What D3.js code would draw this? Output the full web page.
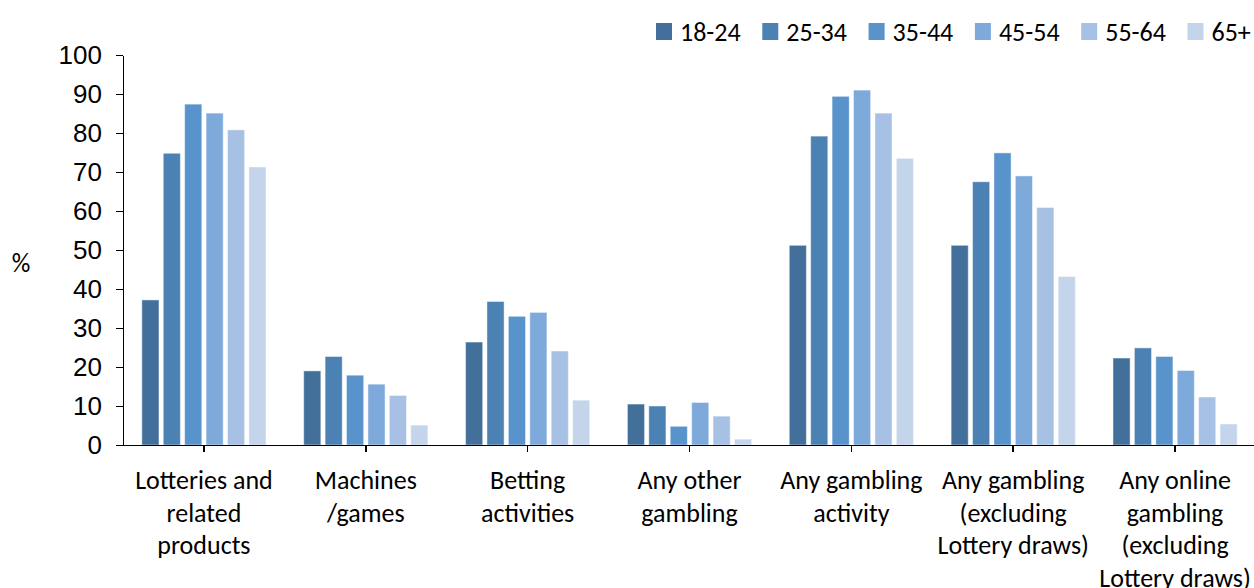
<!DOCTYPE html>
<html>
<head>
<meta charset="utf-8">
<script src="https://cdn.jsdelivr.net/npm/d3@7/dist/d3.min.js"></script>
<style>
  html, body { margin: 0; padding: 0; background: #fff; }
  svg { display: block; font-family: Carlito, Calibri, Lato, "Open Sans", sans-serif; }
  .axis path, .axis line { stroke: #000; stroke-width: 1.6px; shape-rendering: crispEdges; }
  .axis text { fill: #000; font-size: 26px; }
</style>
</head>
<body>
<svg id="chart" width="1254" height="588"></svg>
<script>
// Share of each age group taking part in each gambling activity (%)
const categories = [
  "Lotteries and\nrelated\nproducts",
  "Machines\n/games",
  "Betting\nactivities",
  "Any other\ngambling",
  "Any gambling\nactivity",
  "Any gambling\n(excluding\nLottery draws)",
  "Any online\ngambling\n(excluding\nLottery draws)"
];
const ageGroups = ["18-24", "25-34", "35-44", "45-54", "55-64", "65+"];
const age18_24 = [37.2, 19.0, 26.4, 10.5, 51.2, 51.2, 22.3];
const age25_34 = [74.8, 22.7, 36.8, 10.0, 79.2, 67.5, 24.9];
const age35_44 = [87.4, 17.9, 33.0, 4.8, 89.4, 74.9, 22.7];
const age45_54 = [85.1, 15.6, 34.0, 10.9, 91.0, 69.0, 19.1];
const age55_64 = [80.8, 12.7, 24.1, 7.4, 85.1, 60.9, 12.3];
const age65plus = [71.3, 5.1, 11.5, 1.5, 73.5, 43.2, 5.4];
const seriesValues = [age18_24, age25_34, age35_44, age45_54, age55_64, age65plus];
const seriesColors = ["#43709b", "#4c81b4", "#5893cb", "#7eaadb", "#a6c1e4", "#c4d5eb"];
const yTicks = [0, 10, 20, 30, 40, 50, 60, 70, 80, 90, 100];

const svg = d3.select("#chart");
const margin = { left: 123, right: 1256, top: 55, bottom: 445 };

const x0 = d3.scaleBand()
  .domain(categories)
  .range([margin.left, margin.right])
  .paddingInner(0).paddingOuter(0);

const x1 = d3.scaleBand()
  .domain(ageGroups)
  .range([0, x0.bandwidth()])
  .paddingInner(0.2)
  .paddingOuter(0.88);

const y = d3.scaleLinear().domain([0, 100]).range([margin.bottom, margin.top]);

const color = d3.scaleOrdinal().domain(ageGroups).range(seriesColors);

// Flatten to one record per bar
const barData = [];
categories.forEach((c, ci) => {
  ageGroups.forEach((g, gi) => {
    barData.push({ category: c, group: g, value: seriesValues[gi][ci] });
  });
});

// Bars
svg.append("g")
  .selectAll("rect")
  .data(barData)
  .join("rect")
  .attr("x", d => x0(d.category) + x1(d.group))
  .attr("y", d => y(d.value))
  .attr("width", x1.bandwidth())
  .attr("height", d => y(0) - y(d.value))
  .attr("fill", d => color(d.group))
  .attr("stroke", "#ffffff")
  .attr("stroke-opacity", 0.45)
  .attr("stroke-width", 1);

// Y axis
svg.append("g")
  .attr("class", "axis")
  .attr("transform", `translate(${margin.left},0)`)
  .call(d3.axisLeft(y).tickValues(yTicks).tickSize(7).tickSizeOuter(0).tickPadding(14));

// X axis with ticks at category centres
const xAxis = svg.append("g")
  .attr("class", "axis")
  .attr("transform", `translate(0,${margin.bottom})`)
  .call(d3.axisBottom(x0).tickSize(7).tickSizeOuter(0).tickFormat(""));

xAxis.append("line")
  .attr("x1", x0.range()[1]).attr("x2", x0.range()[1])
  .attr("y1", 0).attr("y2", 7);

// Multi-line category labels
const lineHeight = 32.5;
svg.append("g")
  .selectAll("text")
  .data(categories)
  .join("text")
  .attr("x", d => x0(d) + x0.bandwidth() / 2)
  .attr("y", 489)
  .attr("text-anchor", "middle")
  .attr("font-size", 26)
  .attr("fill", "#000")
  .each(function(d) {
    const t = d3.select(this);
    d.split("\n").forEach((line, i) => {
      t.append("tspan")
        .attr("x", x0(d) + x0.bandwidth() / 2)
        .attr("dy", i === 0 ? 0 : lineHeight)
        .text(line);
    });
  });

// Axis title
svg.append("text")
  .attr("x", 21)
  .attr("y", 272)
  .attr("text-anchor", "middle")
  .attr("font-size", 26)
  .attr("fill", "#000")
  .text("%");

// Legend
const legend = svg.append("g")
  .selectAll("g")
  .data(ageGroups)
  .join("g")
  .attr("transform", (d, i) => `translate(${656 + i * 106.3},0)`);

legend.append("rect")
  .attr("x", 0).attr("y", 23)
  .attr("width", 16).attr("height", 17)
  .attr("fill", d => color(d));

legend.append("text")
  .attr("x", 24).attr("y", 41)
  .attr("font-size", 26)
  .attr("fill", "#000")
  .text(d => d);
</script>
</body>
</html>
